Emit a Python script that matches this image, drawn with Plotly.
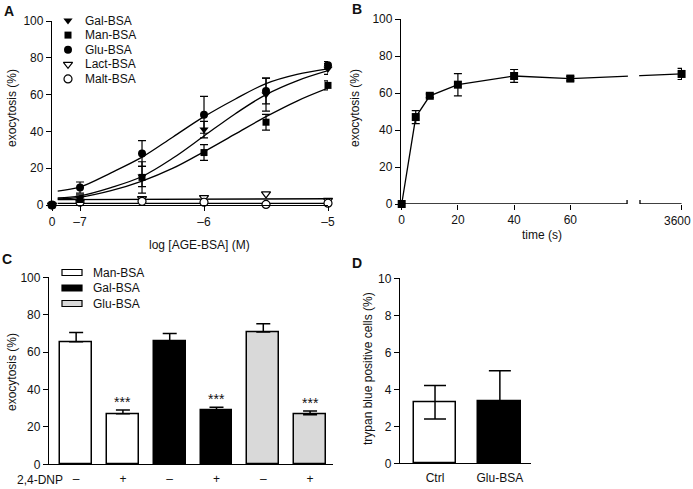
import plotly.graph_objects as go

W, H = 693, 489
FONT = "Arial, Liberation Sans, Helvetica, sans-serif"

# ---------------- Panel A data ----------------
a_logconc = [0, -7, -6.5, -6, -5.5, -5]          # 0 = no AGE-BSA (control)
a_series = ["Gal-BSA", "Man-BSA", "Glu-BSA", "Lact-BSA", "Malt-BSA"]
gal = [0, 4, 15.5, 41, 60, 74]
gal_err = [0, 1.5, 5.5, 4.5, 9, 3]
man = [0, 3, 15, 28.5, 45, 65]
man_err = [0, 1.5, 8.5, 4.3, 4.3, 2.5]
glu = [0, 9.5, 28, 49, 62, 76]
glu_err = [0, 3, 7, 10, 7, 2]
lact = [0, 2, 3.5, 4, 6, 2.5]
malt = [0, 1.5, 2, 1.5, 0.3, 1]

# fitted curves
fit_x = [-7.18, -7.0, -6.75, -6.5, -6.25, -6.0, -5.75, -5.5, -5.25, -5.0]
glu_fit = [7.5, 9.8, 17.5, 26, 37, 48, 57.5, 66, 71, 74]
gal_fit = [3.8, 5, 9.5, 15.5, 25.5, 37.5, 49.5, 60, 67.5, 73]
man_fit = [3.3, 4.2, 7.8, 13, 20, 29, 38.5, 48, 56.5, 63.5]
flat_fit_x = [-7.18, -5.0]
lact_fit = [2.9, 3.4]
malt_fit = [0.9, 0.9]
a_ticks = [0, -7, -6, -5]
a_ticktext = ["0", "–7", "–6", "–5"]

# ---------------- Panel B data ----------------
b_time = [0, 5, 10, 20, 40, 60, 3600]
b_vals = [0, 47, 58.5, 64.5, 69.2, 67.8, 70.3]
b_err = [0, 3.5, 1, 6, 3.5, 1.2, 3]
b_ticks = [0, 20, 40, 60, 3600]

# ---------------- Panel C data ----------------
c_groups = ["Man-BSA", "Gal-BSA", "Glu-BSA"]
c_colors = ["#ffffff", "#000000", "#d9d9d9"]
c_minus = [65.5, 66, 70.8]
c_minus_err = [5, 4, 4.4]
c_plus = [27, 28.8, 26.5]
c_plus_err = [2, 1.7, 2]
c_dnp_labels = ["–", "+"]

# ---------------- Panel D data ----------------
d_cats = ["Ctrl", "Glu-BSA"]
d_vals = [3.3, 3.35]
d_err = [0.9, 1.65]
d_colors = ["#ffffff", "#000000"]

# ---------------- scale helpers (broken axes) ----------------
A_ZERO_POS = -7.226      # where the "0" concentration sits on the broken log axis
B_BREAK = 80.2           # first segment end (s)
B_SEG2 = (84.8, 99.6)    # second segment of the broken time axis


def a_pos(v):
    return A_ZERO_POS if v == 0 else v


def b_pos(t):
    return t if t <= B_BREAK else B_SEG2[1]


def px(x):
    return x / W


def py(y):
    return 1 - y / H


fig = go.Figure()
LW = 1.3
ax_common = dict(showgrid=False, zeroline=False, linecolor="black", linewidth=LW,
                 tickcolor="black", tickwidth=LW, ticklen=5, ticks="outside", automargin=False,
                 ticklabeloverflow="allow",
                 tickfont=dict(family=FONT, size=12, color="#111"))

# ---------------- Panel A ----------------
ax_x = [a_pos(v) for v in a_logconc]
for fy in (glu_fit, gal_fit, man_fit):
    fig.add_trace(go.Scatter(x=fit_x, y=fy, mode="lines", line=dict(color="black", width=LW, shape="spline"),
                             xaxis="x", yaxis="y", showlegend=False, hoverinfo="skip"))
for fy in (lact_fit, malt_fit):
    fig.add_trace(go.Scatter(x=flat_fit_x, y=fy, mode="lines", line=dict(color="black", width=LW),
                             xaxis="x", yaxis="y", showlegend=False, hoverinfo="skip"))

a_styles = {
    "Gal-BSA": dict(symbol="triangle-down", color="black", size=8),
    "Man-BSA": dict(symbol="square", color="black", size=7),
    "Glu-BSA": dict(symbol="circle", color="black", size=8),
    "Lact-BSA": dict(symbol="triangle-down", color="white", size=8, line=dict(color="black", width=1.2)),
    "Malt-BSA": dict(symbol="circle", color="white", size=8, line=dict(color="black", width=1.2)),
}
a_data = {"Gal-BSA": (gal, gal_err), "Man-BSA": (man, man_err), "Glu-BSA": (glu, glu_err),
          "Lact-BSA": (lact, None), "Malt-BSA": (malt, None)}
for name in ["Lact-BSA", "Malt-BSA", "Man-BSA", "Gal-BSA", "Glu-BSA"]:
    vals, err = a_data[name]
    fig.add_trace(go.Scatter(
        x=ax_x, y=vals, mode="markers", name=name, marker=a_styles[name],
        error_y=dict(type="data", array=err, color="black", thickness=1.2, width=4, visible=err is not None),
        xaxis="x", yaxis="y", showlegend=False, cliponaxis=False))

fig.update_layout(
    xaxis=dict(domain=[px(52), px(328)], range=[A_ZERO_POS, -5], anchor="y", showline=True,
               tickvals=[a_pos(v) for v in a_ticks], ticktext=a_ticktext, **ax_common),
    yaxis=dict(domain=[py(205), py(21)], range=[0, 100], anchor="x", showline=True,
               tickvals=[0, 20, 40, 60, 80, 100], **ax_common),
)

# manual legend for panel A (pixel coordinate overlay axis)
leg_x0, leg_y0, leg_dy = 68, 20.5, 14.6
for i, name in enumerate(a_series):
    st = dict(a_styles[name])
    fig.add_trace(go.Scatter(x=[leg_x0], y=[leg_y0 + i * leg_dy], mode="markers", marker=st,
                             xaxis="x5", yaxis="y5", showlegend=False, hoverinfo="skip", cliponaxis=False))
    fig.add_annotation(x=px(leg_x0 + 15), y=py(leg_y0 + i * leg_dy), xref="paper", yref="paper",
                       text=name, showarrow=False, xanchor="left", yanchor="middle",
                       font=dict(family=FONT, size=12, color="#111"))

# ---------------- Panel B ----------------
fig.add_trace(go.Scatter(
    x=[b_pos(t) for t in b_time], y=b_vals, mode="lines+markers",
    line=dict(color="black", width=LW),
    marker=dict(symbol="square", size=8, color="black"),
    error_y=dict(type="data", array=b_err, color="black", thickness=1.2, width=4),
    xaxis="x2", yaxis="y2", showlegend=False, cliponaxis=False))
# the last tick label sits at the right edge of the figure: draw it right-aligned
b_ticktext = [str(t) if t <= B_BREAK else "" for t in b_ticks]
fig.update_layout(
    xaxis2=dict(domain=[px(401), px(682)], range=[-0.25, 99.75], anchor="y2", showline=False,
                tickvals=[b_pos(t) for t in b_ticks], ticktext=b_ticktext, **ax_common),
    yaxis2=dict(domain=[py(204), py(19)], range=[0, 100], anchor="x2", showline=True,
                tickvals=[0, 20, 40, 60, 80, 100], **ax_common),
)
for t in b_ticks:
    if t > B_BREAK:
        fig.add_annotation(x=px(692.5), y=py(221), xref="paper", yref="paper", text=str(t), showarrow=False,
                           xanchor="right", yanchor="middle", font=dict(family=FONT, size=12, color="#111"))
# broken axis line, break gap and break marks
fig.add_shape(type="rect", xref="x2", yref="y2", x0=B_BREAK + 0.3, x1=B_SEG2[0] - 0.3, y0=50, y1=90,
              fillcolor="white", line=dict(width=0), layer="above")
fig.add_shape(type="line", xref="x2", yref="y2", x0=-0.25, x1=B_BREAK, y0=0, y1=0,
              line=dict(color="black", width=LW))
fig.add_shape(type="line", xref="x2", yref="y2", x0=B_SEG2[0], x1=B_SEG2[1], y0=0, y1=0,
              line=dict(color="black", width=LW))
for bx in (B_BREAK, B_SEG2[0]):
    fig.add_shape(type="line", xref="x2", yref="y2", x0=bx, x1=bx, y0=-2.2, y1=2.2,
                  line=dict(color="black", width=LW))

# ---------------- Panel C ----------------
c_x, c_y, c_e, c_em, c_col, c_txt = [], [], [], [], [], []
for gi, g in enumerate(c_groups):
    for di, (v, e) in enumerate(((c_minus[gi], c_minus_err[gi]), (c_plus[gi], c_plus_err[gi]))):
        c_x.append(gi * 2 + di)
        c_y.append(v)
        c_e.append(e)
        c_em.append(0)
        c_col.append(c_colors[gi])
        c_txt.append(c_dnp_labels[di])
fig.add_trace(go.Bar(
    x=c_x, y=c_y, width=0.68, marker=dict(color=c_col, line=dict(color="black", width=1.5)),
    error_y=dict(type="data", array=c_e, arrayminus=c_em, symmetric=False, color="black", thickness=1.5, width=7),
    xaxis="x3", yaxis="y3", showlegend=False))
for xi, yi, ei, ti in zip(c_x, c_y, c_e, c_txt):
    if ti == "+":
        fig.add_annotation(x=xi, y=yi + ei + 4.5, xref="x3", yref="y3", text="***", showarrow=False,
                           yanchor="middle", font=dict(family=FONT, size=14, color="#111"))
fig.update_layout(
    xaxis3=dict(domain=[px(49), px(333)], range=[-0.58, 5.49], anchor="y3", showline=True,
                tickvals=c_x, ticktext=c_txt,
                **{**ax_common, "tickcolor": "rgba(0,0,0,0)", "ticklen": 3}),
    yaxis3=dict(domain=[py(464.3), py(277.3)], range=[0, 100], anchor="x3", showline=True,
                tickvals=[0, 20, 40, 60, 80, 100], **ax_common),
)
fig.add_annotation(x=px(40), y=py(480), xref="paper", yref="paper", text="2,4-DNP", showarrow=False,
                   xanchor="center", yanchor="middle", font=dict(family=FONT, size=12, color="#111"))
# manual legend for panel C
cl_x0, cl_y0, cl_dy = 62, 272.5, 15.5
for i, g in enumerate(c_groups):
    yc = cl_y0 + i * cl_dy
    fig.add_shape(type="rect", xref="paper", yref="paper", x0=px(cl_x0), x1=px(cl_x0 + 20),
                  y0=py(yc + 3), y1=py(yc - 3), fillcolor=c_colors[i], line=dict(color="black", width=1.2))
    fig.add_annotation(x=px(cl_x0 + 29), y=py(yc), xref="paper", yref="paper", text=g, showarrow=False,
                       xanchor="left", yanchor="middle", font=dict(family=FONT, size=12, color="#111"))

# ---------------- Panel D ----------------
fig.add_trace(go.Bar(
    x=[0, 1], y=d_vals, width=0.66, marker=dict(color=d_colors, line=dict(color="black", width=1.5)),
    error_y=dict(type="data", array=d_err, color="black", thickness=1.5, width=11),
    xaxis="x4", yaxis="y4", showlegend=False))
fig.update_layout(
    xaxis4=dict(domain=[px(400), px(531)], range=[-0.54, 1.48], anchor="y4", showline=True,
                tickvals=[0, 1], ticktext=d_cats,
                **{**ax_common, "tickcolor": "rgba(0,0,0,0)", "ticklen": 3}),
    yaxis4=dict(domain=[py(463.3), py(278.3)], range=[0, 10], anchor="x4", showline=True,
                tickvals=[0, 2, 4, 6, 8, 10], **ax_common),
)

# pixel overlay axes (for legend markers)
fig.update_layout(
    xaxis5=dict(domain=[0, 1], range=[0, W], visible=False, anchor="y5", fixedrange=True, automargin=False),
    yaxis5=dict(domain=[0, 1], range=[H, 0], visible=False, anchor="x5", fixedrange=True, automargin=False),
)

# axis titles & panel labels
def ann(x, y, text, angle=0, size=12, bold=False):
    fig.add_annotation(x=px(x), y=py(y), xref="paper", yref="paper", text=f"<b>{text}</b>" if bold else text,
                       showarrow=False, textangle=angle, xanchor="center", yanchor="middle",
                       font=dict(family=FONT, size=size, color="#111"))

ann(12, 108, "exocytosis (%)", -90)
ann(200, 245, "log [AGE-BSA] (M)")
ann(355, 108, "exocytosis (%)", -90)
ann(542, 235, "time (s)")
ann(12, 372, "exocytosis (%)", -90)
ann(368, 369, "trypan blue positive cells (%)", -90)
ann(9, 11, "A", size=14, bold=True)
ann(357, 9, "B", size=14, bold=True)
ann(7, 259, "C", size=14, bold=True)
ann(357, 263, "D", size=14, bold=True)

fig.update_layout(width=W, height=H, margin=dict(l=0, r=0, t=0, b=0, autoexpand=False),
                  paper_bgcolor="white", plot_bgcolor="rgba(0,0,0,0)", showlegend=False,
                  font=dict(family=FONT, size=12, color="#111"), bargap=0)
fig.write_html("out.html", config={"displayModeBar": False},
               post_script="document.body.style.margin='0px';document.body.style.overflow='hidden';")
